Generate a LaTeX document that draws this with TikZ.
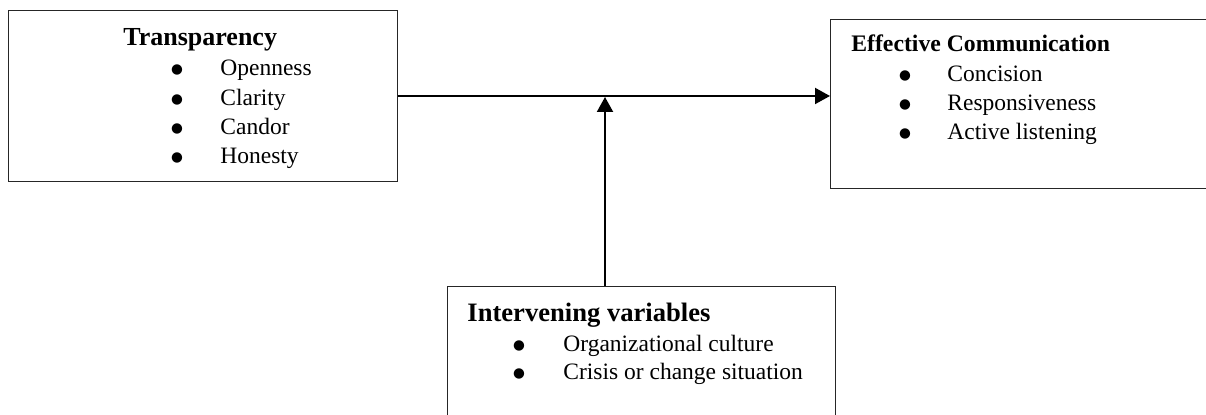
\documentclass[tikz,border=0pt]{standalone}
\usepackage{fontspec}
\setmainfont{Liberation Serif}
\newfontfamily\symfont{DejaVu Sans}
\usetikzlibrary{positioning,arrows.meta}
\tikzstyle{box}=[draw=black!85, line width=0.5pt, anchor=north west, inner sep=0pt]
\tikzstyle{head}=[anchor=base west, inner sep=0pt, font=\bfseries\fontsize{13}{15}\selectfont]
\tikzstyle{itemtext}=[anchor=base west, inner sep=0pt, font=\fontsize{11.75}{14}\selectfont]
\tikzstyle{bul}=[anchor=base, inner sep=0pt, yshift=1.3pt, font=\symfont\fontsize{6.8}{8}\selectfont]
\tikzstyle{arr}=[-{Triangle[length=7.5pt,width=8pt]}, line width=1pt]

\begin{document}
\begin{tikzpicture}[x=0.5pt, y=-0.5pt]
  \clip (0,0) rectangle (1206,415);

  \node [box, minimum width=194.5pt, minimum height=85.5pt] at (8, 10)   (transp)  {};
  \node [box, minimum width=192.5pt, minimum height=84.5pt] at (830, 19) (effcomm) {};
  \node [box, minimum width=194pt,   minimum height=69.5pt] at (447, 286) (interv) {};

  \node [head] at (123, 46) (head_transp) {Transparency};
  \node [bul] at (177, 76)  (bul_open)  {●};
  \node [bul] at (177, 106) (bul_clar)  {●};
  \node [bul] at (177, 135) (bul_cand)  {●};
  \node [bul] at (177, 164) (bul_hon)   {●};
  \node [itemtext] at (220, 76)  (text_open) {Openness};
  \node [itemtext] at (220, 106) (text_clar) {Clarity};
  \node [itemtext] at (220, 135) (text_cand) {Candor};
  \node [itemtext] at (220, 164) (text_hon)  {Honesty};

  \node [head, font=\bfseries\fontsize{11.85}{14}\selectfont] at (851, 52) (head_eff) {Effective Communication};
  \node [bul] at (905, 82)  (bul_conc) {●};
  \node [bul] at (905, 111) (bul_resp) {●};
  \node [bul] at (905, 140) (bul_act)  {●};
  \node [itemtext] at (947, 82)  (text_conc) {Concision};
  \node [itemtext] at (947, 111) (text_resp) {Responsiveness};
  \node [itemtext] at (947, 140) (text_act)  {Active listening};

  \node [head, font=\bfseries\fontsize{13.3}{15}\selectfont] at (467, 322) (head_int) {Intervening variables};
  \node [bul] at (519, 352) (bul_org)  {●};
  \node [bul] at (519, 380) (bul_cris) {●};
  \node [itemtext] at (563, 352) (text_org)  {Organizational culture};
  \node [itemtext] at (563, 380) (text_cris) {Crisis or change situation};

  \coordinate (join) at (605, 97);
  \draw [arr] (transp.east) -- (transp.east -| effcomm.west);
  \draw [arr] (join |- interv.north) -- (join);
\end{tikzpicture}
\end{document}
